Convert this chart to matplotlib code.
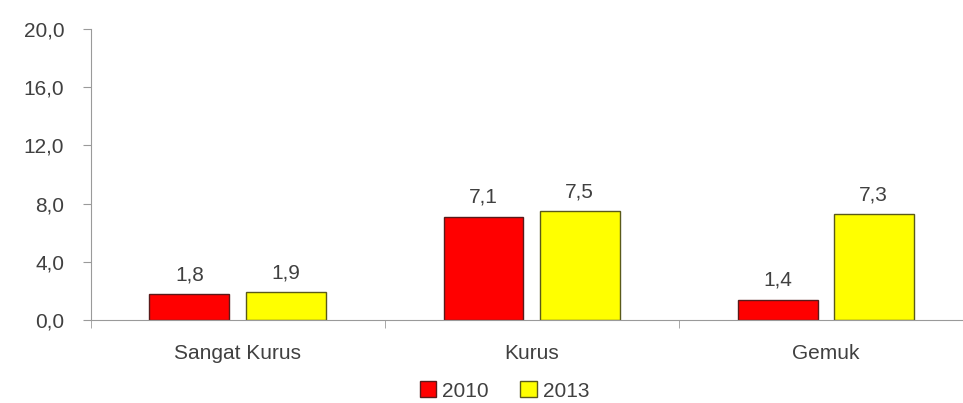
import matplotlib.pyplot as plot
import numpy

categories = ["Sangat Kurus", "Kurus", "Gemuk"]
values_2010 = [1.8, 7.1, 1.4]
values_2013 = [1.9, 7.5, 7.3]
y_ticks = [0, 4, 8, 12, 16, 20]

plot.rcParams['font.family'] = ['Liberation Sans', 'DejaVu Sans']
text_color = "#404040"
axis_color = "#9a9a9a"


def fmt(v):
  return "{:.1f}".format(v).replace(".", ",")


def attach_text_labels(rects, axes):
  for rect in rects:
    height = rect.get_height()
    axes.annotate(fmt(height),
                  xy=(rect.get_x() + rect.get_width() / 2, height),
                  xytext=(0, 7), textcoords="offset points",
                  ha='center', va='bottom', fontsize=15, color=text_color)


figure = plot.figure(figsize=(9.63, 4.03), dpi=100)
axes = figure.add_axes([0.094, 0.206, 0.916, 0.722])

x = numpy.arange(len(categories))
width = 0.272
gap = 0.055
rects_1 = axes.bar(x - (width + gap) / 2, values_2010, width, label="2010",
                   color="#ff0000", edgecolor="#5a1a1a", linewidth=1)
rects_2 = axes.bar(x + (width + gap) / 2, values_2013, width, label="2013",
                   color="#ffff00", edgecolor="#5a5a1a", linewidth=1)

attach_text_labels(rects_1, axes)
attach_text_labels(rects_2, axes)

axes.set_xlim(-0.5, len(categories) - 0.5)
axes.set_ylim(0, 20)
axes.set_yticks(y_ticks)
axes.set_yticklabels([fmt(v) for v in y_ticks])
axes.set_xticks(x)
axes.set_xticklabels(categories)
axes.set_xticks(numpy.arange(-0.5, len(categories)), minor=True)
axes.tick_params(axis='x', which='major', length=0, pad=17, labelsize=15, labelcolor=text_color)
axes.tick_params(axis='x', which='minor', length=6, color=axis_color)
axes.tick_params(axis='y', length=6, color=axis_color, labelsize=15, labelcolor=text_color, pad=13)

for side in ["top", "right"]:
  axes.spines[side].set_visible(False)
for side in ["left", "bottom"]:
  axes.spines[side].set_color(axis_color)

figure.legend(handles=[rects_1, rects_2], loc="center", bbox_to_anchor=(0.524, 0.03),
              ncol=2, frameon=False, fontsize=15, labelcolor=text_color,
              handlelength=0.8, handleheight=0.8, handletextpad=0.3, columnspacing=1.5,
              borderpad=0)

figure.savefig("out.png", dpi=100)
plot.close()
